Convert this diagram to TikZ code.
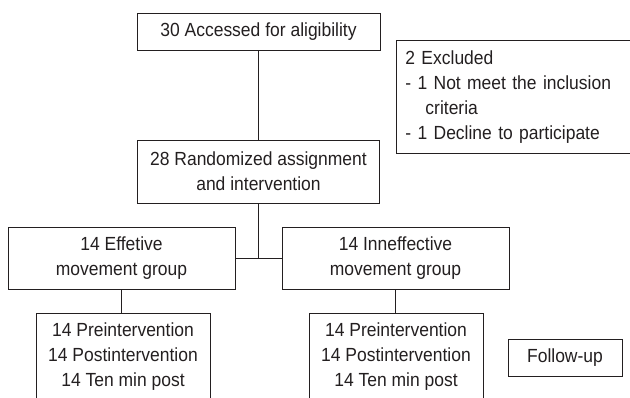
\documentclass[tikz,border=0pt]{standalone}
\usepackage{fontspec}
\setmainfont{Liberation Sans}[FakeStretch=0.92]
\definecolor{ink}{HTML}{231F20}
\begin{document}
\begin{tikzpicture}[x=1pt,y=-1pt,
  box/.style={draw=ink, line width=0.9pt, rectangle, inner sep=0pt, align=center,
    text=ink, font=\fontsize{19}{25}\selectfont},
  link/.style={draw=ink, line width=0.9pt}]
\path[use as bounding box] (0,0) rectangle (630,397);
\clip (0,0) rectangle (630,397);
\node[box, minimum width=243pt, minimum height=37pt] (A) at (258.5,31.5) {30 Accessed for aligibility};
\node[box, minimum width=240pt, minimum height=113pt, anchor=north west, text width=222pt,
  align=left, inner xsep=9pt] (E) at (396,40)
  {2 Excluded\\- 1 Not meet the inclusion\\\hspace*{20pt}criteria\\- 1 Decline to participate};
\node[box, minimum width=242pt, minimum height=63pt] (B) at (258.5,171.5) {28 Randomized assignment\\and intervention};
\node[box, minimum width=227pt, minimum height=62pt] (C1) at (121.5,258) {14 Effetive\\movement group};
\node[box, minimum width=227pt, minimum height=62pt] (C2) at (395.5,258) {14 Inneffective\\movement group};
\node[box, minimum width=174pt, minimum height=88pt] (D1) at (123,357) {14 Preintervention\\14 Postintervention\\14 Ten min post};
\node[box, minimum width=174pt, minimum height=88pt] (D2) at (396,357) {14 Preintervention\\14 Postintervention\\14 Ten min post};
\node[box, minimum width=114pt, minimum height=37pt] (F) at (565,357.5) {Follow-up};
\draw[link] (A) -- (B);
\draw[link] (C1.east) -- (C2.west);
\draw[link] (B.south) -- (B.south |- C1.east);
\draw[link] (C1.south) -- (C1.south |- D1.north);
\draw[link] (C2.south) -- (C2.south |- D2.north);
\end{tikzpicture}
\end{document}
